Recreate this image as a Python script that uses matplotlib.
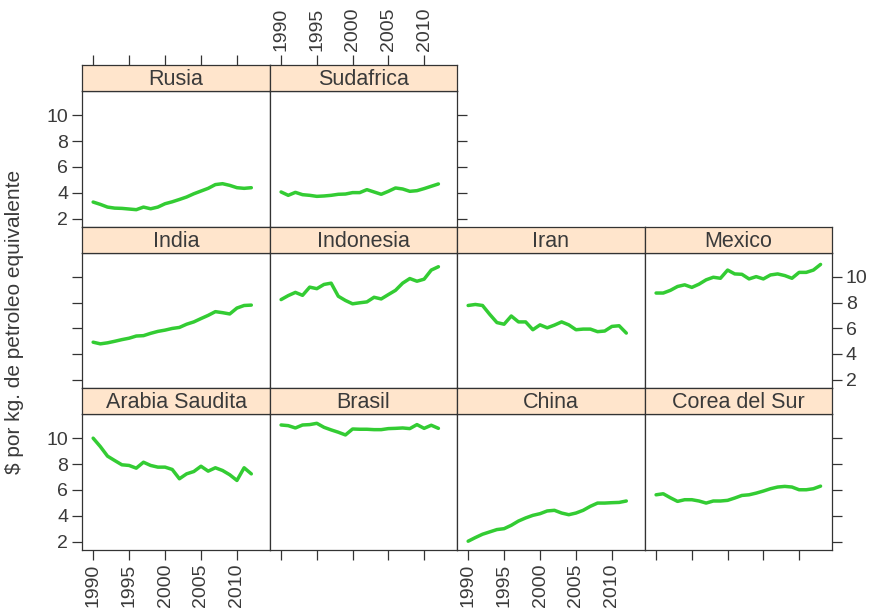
import matplotlib
matplotlib.use("Agg")
import matplotlib.pyplot as plt

plt.rcParams["font.family"] = ["Liberation Sans", "DejaVu Sans"]

W, H = 877, 613

years = list(range(1990, 2013))
years_long = list(range(1990, 2014))

rusia = [3.28, 3.10, 2.89, 2.81, 2.79, 2.74, 2.69, 2.89, 2.76, 2.89, 3.15, 3.30,
         3.48, 3.67, 3.92, 4.13, 4.34, 4.63, 4.70, 4.57, 4.39, 4.34, 4.39]
sudafrica = [4.06, 3.80, 4.03, 3.85, 3.80, 3.72, 3.75, 3.80, 3.88, 3.90, 4.01, 4.01,
             4.24, 4.06, 3.88, 4.11, 4.37, 4.29, 4.11, 4.16, 4.32, 4.50, 4.68]
india = [4.92, 4.79, 4.87, 4.99, 5.12, 5.23, 5.40, 5.43, 5.61, 5.76, 5.86, 5.99,
         6.07, 6.32, 6.50, 6.76, 7.01, 7.30, 7.22, 7.12, 7.58, 7.78, 7.81]
indonesia = [8.24, 8.55, 8.80, 8.57, 9.21, 9.09, 9.42, 9.52, 8.50, 8.17, 7.91, 7.99,
             8.06, 8.42, 8.29, 8.63, 8.96, 9.52, 9.88, 9.67, 9.83, 10.54, 10.80]
iran = [7.78, 7.86, 7.78, 7.09, 6.45, 6.32, 6.96, 6.50, 6.50, 5.89, 6.27, 6.04,
        6.25, 6.50, 6.27, 5.89, 5.94, 5.94, 5.74, 5.79, 6.15, 6.20, 5.63]
mexico = [8.75, 8.75, 8.96, 9.26, 9.39, 9.19, 9.44, 9.78, 9.98, 9.90, 10.54, 10.24,
          10.21, 9.85, 10.03, 9.85, 10.16, 10.24, 10.11, 9.90, 10.36, 10.36, 10.54, 10.98]
arabia = [10.0, 9.35, 8.61, 8.27, 7.94, 7.89, 7.68, 8.14, 7.89, 7.76, 7.76, 7.58,
          6.86, 7.24, 7.42, 7.83, 7.45, 7.71, 7.50, 7.17, 6.73, 7.71, 7.24]
brasil = [11.02, 10.97, 10.79, 11.02, 11.05, 11.15, 10.84, 10.64, 10.46, 10.25, 10.71, 10.69,
          10.69, 10.66, 10.66, 10.74, 10.76, 10.79, 10.74, 11.05, 10.76, 11.00, 10.76]
china = [2.03, 2.31, 2.57, 2.75, 2.93, 3.00, 3.26, 3.59, 3.83, 4.03, 4.16, 4.37,
         4.42, 4.21, 4.08, 4.21, 4.42, 4.73, 4.98, 4.98, 5.01, 5.03, 5.14]
corea = [5.62, 5.70, 5.39, 5.11, 5.24, 5.24, 5.14, 4.98, 5.14, 5.14, 5.19, 5.37,
         5.57, 5.62, 5.75, 5.91, 6.09, 6.22, 6.27, 6.22, 6.01, 6.01, 6.09, 6.29]

# name, x, y, row, col
panels = [
    ("Rusia", years, rusia, 0, 0),
    ("Sudafrica", years, sudafrica, 0, 1),
    ("India", years, india, 1, 0),
    ("Indonesia", years, indonesia, 1, 1),
    ("Iran", years, iran, 1, 2),
    ("Mexico", years_long, mexico, 1, 3),
    ("Arabia Saudita", years, arabia, 2, 0),
    ("Brasil", years, brasil, 2, 1),
    ("China", years, china, 2, 2),
    ("Corea del Sur", years_long, corea, 2, 3),
]

x_ticks = [1990, 1995, 2000, 2005, 2010]
y_ticks = [2, 4, 6, 8, 10]

col_edges = [82, 270, 457, 645, 832]
row_edges = [(65, 91, 227), (227, 253, 388), (388, 414, 550)]

LINE = "#33cc33"
STRIP = "#ffe5cc"
TEXT = "#3a3a3a"
EDGE = "#333333"


def px_rect(x0, y0, x1, y1):
    return [x0 / W, 1 - y1 / H, (x1 - x0) / W, (y1 - y0) / H]


def clear_ticks(ax):
    ax.tick_params(which="both", bottom=False, top=False, left=False, right=False,
                   labelbottom=False, labeltop=False, labelleft=False, labelright=False)


fig = plt.figure(figsize=(W / 100, H / 100), dpi=100)

tick_kw = dict(length=7, width=0.9, color=EDGE, labelcolor=TEXT, labelsize=14, pad=3)

for name, xs, ys, r, c in panels:
    s_top, p_top, p_bot = row_edges[r]
    x0, x1 = col_edges[c], col_edges[c + 1]

    ax = fig.add_axes(px_rect(x0, p_top, x1, p_bot))
    ax.plot(xs, ys, color=LINE, lw=2.5, solid_capstyle="round")
    ax.set_xlim(1988.45, 2014.6)
    ax.set_ylim(1.35, 11.87)
    ax.set_xticks(x_ticks)
    ax.set_yticks(y_ticks)
    for sp in ax.spines.values():
        sp.set_color(EDGE)
        sp.set_linewidth(0.9)
    clear_ticks(ax)

    st = fig.add_axes(px_rect(x0, s_top, x1, p_top), sharex=ax)
    st.set_facecolor(STRIP)
    st.set_yticks([])
    for sp in st.spines.values():
        sp.set_color(EDGE)
        sp.set_linewidth(0.9)
    clear_ticks(st)
    st.text(0.5, 0.45, name, transform=st.transAxes, ha="center", va="center",
            fontsize=15.5, color=TEXT)

    # alternating axes, lattice style
    if c == 0:
        ax.tick_params(axis="y", left=True, labelleft=(r != 1), **tick_kw)
    if (r, c) in [(0, 1), (1, 3), (2, 3)]:
        ax.tick_params(axis="y", right=True, labelright=(r == 1), **tick_kw)
    if r == 2:
        ax.tick_params(axis="x", bottom=True, labelbottom=(c % 2 == 0),
                       labelrotation=90, **tick_kw)
    if r == 0:
        st.tick_params(axis="x", top=True, labeltop=(c == 1),
                       labelrotation=90, **tick_kw)

fig.text(15 / W, 1 - 322 / H, "$ por kg. de petroleo equivalente", rotation=90,
         ha="center", va="center", fontsize=15, color=TEXT)

fig.savefig("out.png", dpi=100)
